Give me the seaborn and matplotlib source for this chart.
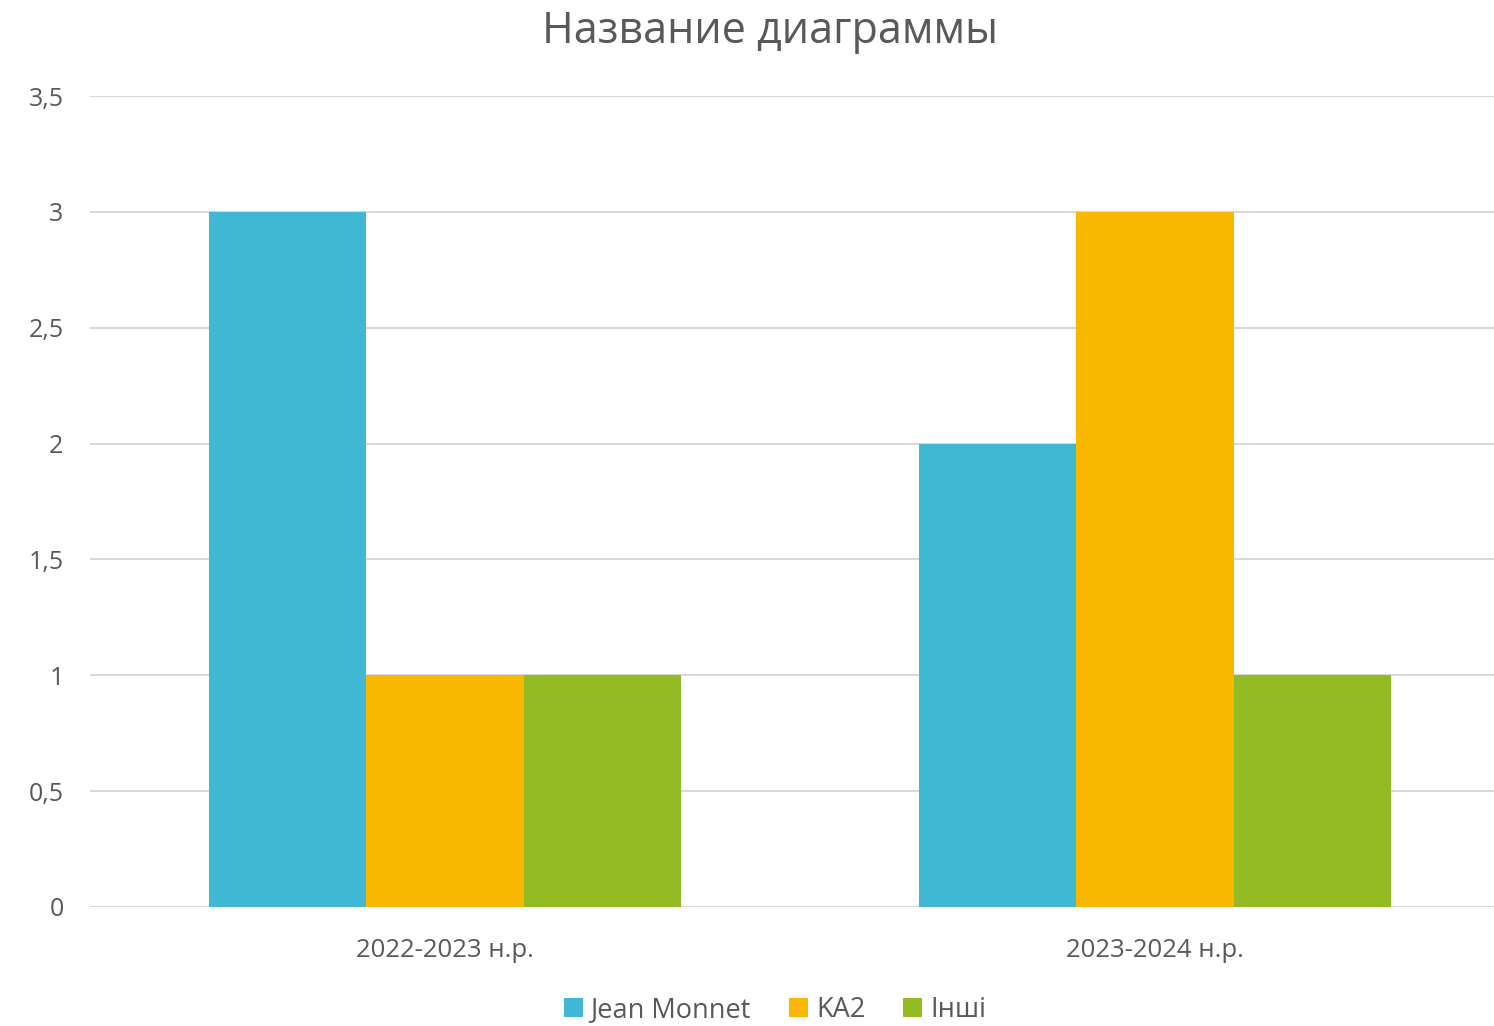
import numpy as np
import pandas as pd
import matplotlib
matplotlib.use("Agg")
import matplotlib.pyplot as plt
import seaborn as sns

categories = ["2022-2023 н.р.", "2023-2024 н.р."]
series = ["Jean Monnet", "KA2", "Інші"]
jean_monnet = [3, 2]
ka2 = [1, 3]
inshi = [1, 1]
y_ticks = [0, 0.5, 1, 1.5, 2, 2.5, 3, 3.5]

COLORS = ["#41B8D3", "#F9B800", "#93BB24"]
TEXT = "#595959"
GRID = "#D9D9D9"

df = pd.DataFrame({
    "cat": categories * 3,
    "series": [s for s in series for _ in categories],
    "value": jean_monnet + ka2 + inshi,
})

sns.set_theme(style="white")
plt.rcParams["font.family"] = ["Open Sans", "DejaVu Sans"]

fig = plt.figure(figsize=(14.94, 10.26), dpi=100)
ax = fig.add_axes([90 / 1494, 1 - 907 / 1026, 1420 / 1494, (907 - 96) / 1026])

sns.barplot(data=df, x="cat", y="value", hue="series", order=categories,
            hue_order=series, palette=COLORS, width=0.666, saturation=1,
            edgecolor="none", linewidth=0, ax=ax, zorder=3)

ax.set_xlim(-0.5, 1.5)
ax.set_ylim(0, 3.5)
ax.set_yticks(y_ticks)
ax.set_yticklabels([f"{v:g}".replace(".", ",") for v in y_ticks])
ax.yaxis.grid(True, color=GRID, lw=1.5, zorder=0)
ax.set_axisbelow(True)
for s in ["top", "right", "left", "bottom"]:
    ax.spines[s].set_visible(False)
ax.axhline(0, color=GRID, lw=1.5, zorder=1)
ax.tick_params(axis="y", length=0, pad=19, labelsize=18, labelcolor=TEXT)
ax.tick_params(axis="x", length=0, pad=22, labelsize=18.5, labelcolor=TEXT)
ax.set_xlabel("")
ax.set_ylabel("")

ax.legend_.remove()
handles = [plt.Rectangle((0, 0), 1, 1, fc=c, ec="none") for c in COLORS]
fig.legend(handles, series, loc="center", bbox_to_anchor=(775 / 1494, 1 - 1010 / 1026),
           ncol=3, frameon=False, fontsize=19.5, labelcolor=TEXT,
           handlelength=0.7, handleheight=0.7, handletextpad=0.3, columnspacing=1.4)

fig.text(770 / 1494, 1 - 32 / 1026, "Название диаграммы", ha="center", va="center",
         fontsize=31, color=TEXT)

fig.savefig("out.png", dpi=100, facecolor="white")
